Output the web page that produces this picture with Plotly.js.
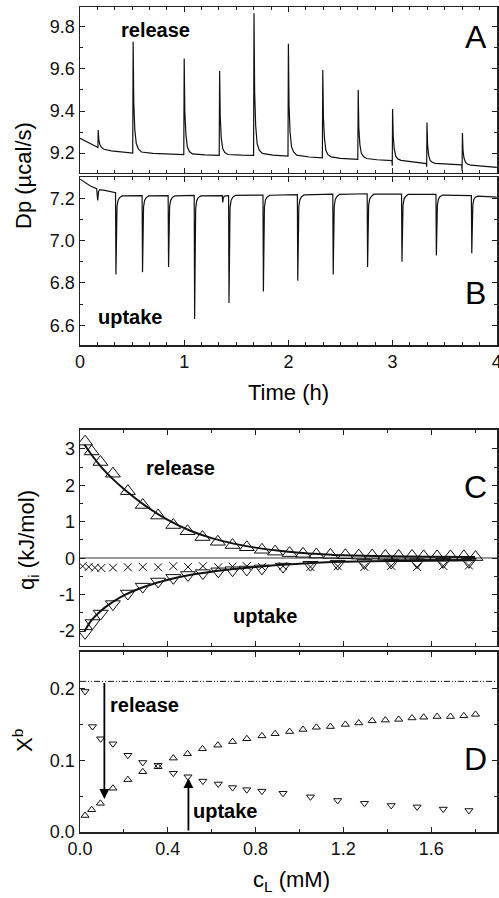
<!DOCTYPE html>
<html>
<head>
<meta charset="utf-8">
<script src="https://cdn.plot.ly/plotly-3.0.1.min.js"></script>
<style>html,body{margin:0;padding:0;background:#fff;}#plot{width:499px;height:898px;}</style>
</head>
<body>
<div id="plot"></div>
<script>
// ---------- Panel A : release thermogram ----------
var timeA = [0,0.05,0.10,0.15,0.172,0.175,0.181,0.19,0.205,0.23,0.30,0.40,
 0.506,0.510,0.516,0.526,0.540,0.560,0.590,0.700,0.850,
 0.996,1.000,1.006,1.016,1.030,1.050,1.080,1.200,
 1.336,1.340,1.346,1.356,1.370,1.390,1.420,1.550,
 1.666,1.670,1.676,1.686,1.700,1.720,1.750,1.850,
 1.996,2.000,2.006,2.016,2.030,2.050,2.080,2.200,
 2.326,2.330,2.336,2.346,2.360,2.380,2.410,2.500,
 2.666,2.670,2.676,2.686,2.700,2.720,2.750,2.850,
 2.994,2.997,3.000,3.006,3.016,3.030,3.050,3.080,3.200,
 3.324,3.327,3.330,3.336,3.346,3.360,3.380,3.410,3.500,
 3.664,3.667,3.670,3.676,3.686,3.700,3.720,3.750,3.850,4.000];
var dpA = [9.270,9.256,9.244,9.232,9.226,9.310,9.262,9.240,9.228,9.218,9.210,9.204,
 9.200,9.730,9.440,9.310,9.245,9.220,9.205,9.198,9.195,
 9.192,9.650,9.400,9.290,9.230,9.207,9.196,9.191,
 9.189,9.590,9.370,9.270,9.220,9.202,9.193,9.190,
 9.189,9.865,9.490,9.330,9.245,9.214,9.198,9.190,
 9.185,9.720,9.430,9.300,9.230,9.205,9.190,9.181,
 9.177,9.595,9.370,9.270,9.212,9.192,9.182,9.175,
 9.170,9.500,9.320,9.240,9.200,9.183,9.174,9.168,
 9.164,9.140,9.410,9.280,9.220,9.185,9.172,9.165,9.158,
 9.150,9.135,9.345,9.240,9.190,9.165,9.156,9.151,9.148,
 9.144,9.115,9.295,9.210,9.175,9.155,9.147,9.142,9.137,9.132];

// ---------- Panel B : uptake thermogram ----------
var timeB = [0,0.05,0.10,0.160,0.170,0.178,0.19,0.25,0.33,
 0.341,0.345,0.349,0.355,0.365,0.380,0.405,0.500,
 0.596,0.600,0.604,0.610,0.620,0.635,0.660,0.750,
 0.846,0.850,0.854,0.860,0.870,0.885,0.910,1.000,
 1.096,1.100,1.104,1.110,1.120,1.135,1.160,1.300,
 1.366,1.370,1.375,1.385,
 1.426,1.430,1.434,1.440,1.450,1.465,1.490,1.600,
 1.756,1.760,1.764,1.770,1.780,1.795,1.820,1.950,
 2.086,2.090,2.094,2.100,2.110,2.125,2.150,2.300,
 2.426,2.430,2.434,2.440,2.450,2.465,2.490,2.600,
 2.756,2.760,2.764,2.770,2.780,2.795,2.820,2.950,
 3.086,3.090,3.094,3.100,3.110,3.125,3.150,3.300,
 3.416,3.420,3.424,3.430,3.440,3.455,3.480,3.600,
 3.756,3.760,3.764,3.770,3.780,3.795,3.820,3.900,4.000];
var dpB = [7.290,7.272,7.258,7.245,7.190,7.232,7.240,7.236,7.228,
 7.226,6.840,7.080,7.160,7.190,7.203,7.211,7.212,
 7.212,6.850,7.080,7.160,7.190,7.203,7.211,7.212,
 7.212,6.875,7.090,7.160,7.190,7.203,7.211,7.212,
 7.213,6.630,7.060,7.150,7.188,7.203,7.211,7.213,
 7.212,7.180,7.200,7.210,
 7.212,6.705,7.070,7.155,7.190,7.204,7.213,7.215,
 7.215,6.760,7.075,7.158,7.192,7.205,7.214,7.216,
 7.217,6.810,7.080,7.160,7.193,7.206,7.216,7.218,
 7.219,6.840,7.085,7.162,7.194,7.207,7.218,7.220,
 7.221,6.875,7.090,7.165,7.196,7.208,7.219,7.220,
 7.220,6.900,7.095,7.166,7.196,7.208,7.218,7.218,
 7.218,6.930,7.100,7.168,7.196,7.207,7.215,7.214,
 7.212,6.940,7.100,7.168,7.195,7.205,7.210,7.208,7.205];

// ---------- Panel C : heats per injection ----------
var cRelease = [0.023,0.053,0.093,0.150,0.218,0.286,0.356,0.425,0.490,0.558,0.628,0.695,0.760,0.829,0.889,
 0.955,1.016,1.077,1.141,1.209,1.270,1.331,1.391,1.452,1.513,1.566,1.627,1.688,1.749,1.802];
var qRelease = [3.20,2.93,2.64,2.32,1.84,1.46,1.17,0.91,0.74,0.58,0.45,0.36,0.30,0.23,0.18,
 0.14,0.12,0.10,0.09,0.08,0.07,0.07,0.06,0.06,0.06,0.05,0.05,0.05,0.05,0.03];
var cUptake = [0.023,0.057,0.094,0.150,0.218,0.286,0.356,0.425,0.492,0.560,0.630,0.695,0.760,0.829,0.925,
 1.050,1.174,1.296,1.418,1.536,1.655,1.772];
var qUptake = [-2.05,-1.78,-1.52,-1.26,-0.97,-0.78,-0.64,-0.54,-0.46,-0.41,-0.36,-0.33,-0.31,-0.28,-0.23,
 -0.18,-0.15,-0.13,-0.12,-0.11,-0.10,-0.10];
var cBlank = [0.012,0.040,0.068,0.097,0.150,0.218,0.286,0.356,0.425,0.492,0.560,0.630,0.695,0.760,0.829,
 0.925,1.050,1.174,1.296,1.418,1.536,1.655,1.772];
var qBlank = [-0.22,-0.24,-0.26,-0.27,-0.26,-0.25,-0.24,-0.25,-0.22,-0.24,-0.22,-0.25,-0.23,-0.22,-0.24,
 -0.22,-0.24,-0.22,-0.24,-0.21,-0.24,-0.21,-0.20];
var cFit = [0.02,0.05,0.10,0.15,0.20,0.30,0.40,0.50,0.60,0.70,0.80,0.90,1.00,1.10,1.20,1.40,1.60,1.80];
var fitRelease = [3.12,2.86,2.48,2.17,1.90,1.43,1.05,0.76,0.55,0.40,0.29,0.21,0.15,0.11,0.08,0.05,0.04,0.03];
var fitUptake = [-2.02,-1.72,-1.42,-1.20,-1.02,-0.77,-0.59,-0.46,-0.37,-0.30,-0.24,-0.19,-0.15,-0.12,-0.10,-0.08,-0.07,-0.06];
var qTickVals = [-2,-1,0,1,2,3];
var qTickText = ['-2','-1','0','1','2','3'];

// ---------- Panel D : bound mole fraction ----------
var xbRelease = [0.023,0.031,0.040,0.061,0.073,0.084,0.091,0.103,0.109,0.116,0.121,0.126,0.130,0.134,0.137,
 0.140,0.143,0.146,0.147,0.150,0.152,0.155,0.156,0.157,0.159,0.160,0.161,0.161,0.162,0.164];
var xbUptake = [0.196,0.147,0.130,0.123,0.107,0.097,0.093,0.082,0.077,0.071,0.067,0.062,0.059,0.057,0.054,
 0.049,0.044,0.040,0.037,0.035,0.032,0.030];
var satC = [0, 1.9];
var satXb = [0.21, 0.21];
var releaseArrow = {c: 0.111, from: 0.21, to: 0.046};
var uptakeArrow = {c: 0.494, from: 0.0, to: 0.075};

var FONT = 'Liberation Sans, Arial, sans-serif';
var black = '#111';

var traces = [
  {x: timeA, y: dpA, xaxis: 'x', yaxis: 'y', mode: 'lines', line: {color: black, width: 1.2}},
  {x: timeB, y: dpB, xaxis: 'x2', yaxis: 'y2', mode: 'lines', line: {color: black, width: 1.2}},
  {x: cFit, y: fitRelease, xaxis: 'x3', yaxis: 'y3', mode: 'lines', line: {color: black, width: 2, shape: 'spline'}},
  {x: cFit, y: fitUptake, xaxis: 'x3', yaxis: 'y3', mode: 'lines', line: {color: black, width: 2, shape: 'spline'}},
  {x: cRelease, y: qRelease, xaxis: 'x3', yaxis: 'y3', mode: 'markers',
   marker: {symbol: 'triangle-up-open', size: 13, color: black, line: {width: 1, color: black}}},
  {x: cUptake, y: qUptake, xaxis: 'x3', yaxis: 'y3', mode: 'markers',
   marker: {symbol: 'triangle-down-open', size: 13, color: black, line: {width: 1, color: black}}},
  {x: cBlank, y: qBlank, xaxis: 'x3', yaxis: 'y3', mode: 'markers',
   marker: {symbol: 'x-thin-open', size: 8, color: black, line: {width: 1, color: black}}},
  {x: satC, y: satXb, xaxis: 'x4', yaxis: 'y4', mode: 'lines',
   line: {color: black, width: 1, dash: '6px,2px,1px,2px,1px,2px'}},
  {x: cRelease, y: xbRelease, xaxis: 'x4', yaxis: 'y4', mode: 'markers',
   marker: {symbol: 'triangle-up-open', size: 7, color: black, line: {width: 1, color: black}}},
  {x: cUptake, y: xbUptake, xaxis: 'x4', yaxis: 'y4', mode: 'markers',
   marker: {symbol: 'triangle-down-open', size: 7, color: black, line: {width: 1, color: black}}}
];

function ax(extra) {
  var base = {
    showline: true, linecolor: '#222', linewidth: 1.5, mirror: 'ticks',
    ticks: 'inside', ticklen: 5, tickwidth: 1, tickcolor: '#222',
    showgrid: false, zeroline: false,
    tickfont: {family: FONT, size: 18, color: '#111'}
  };
  for (var k in extra) base[k] = extra[k];
  return base;
}
function minor(d) { return {dtick: d, ticks: 'inside', ticklen: 3, tickwidth: 1, tickcolor: '#222', showgrid: false}; }

var ann = [];
function txt(x, y, t, size, bold) {
  ann.push({xref: 'paper', yref: 'paper', x: x, y: y, text: bold ? '<b>' + t + '</b>' : t, showarrow: false,
    xanchor: 'center', yanchor: 'middle', font: {family: FONT, size: size, color: '#000'}});
}
txt(0.1799, 0.9721, 'release', 20, true);
txt(0.1199, 0.6242, 'uptake', 20, true);
txt(0.2422, 0.4412, 'release', 20, true);
txt(0.4436, 0.2618, 'uptake', 20, true);
txt(0.1535, 0.1539, 'release', 20, true);
txt(0.3477, 0.0255, 'uptake', 20, true);
txt(0.9496, 0.9636, 'A', 32, false);
txt(0.9496, 0.6533, 'B', 32, false);
txt(0.9496, 0.4182, 'C', 32, false);
txt(0.9496, 0.0885, 'D', 32, false);
txt(0.501, 0.5333, 'Time (h)', 22, false);
txt(0.506, -0.059, 'c<sub>L</sub> (mM)', 22, false);
ann.push({xref: 'paper', yref: 'paper', x: -0.1343, y: 0.7964, text: 'Dp (\u00b5cal/s)', textangle: -90,
  showarrow: false, xanchor: 'center', yanchor: 'middle', font: {family: FONT, size: 22, color: '#000'}});
ann.push({xref: 'paper', yref: 'paper', x: -0.1247, y: 0.354, text: 'q<sub>i</sub> (kJ/mol)', textangle: -90,
  showarrow: false, xanchor: 'center', yanchor: 'middle', font: {family: FONT, size: 22, color: '#000'}});
ann.push({xref: 'paper', yref: 'paper', x: -0.137, y: 0.1115, text: 'X<sup>b</sup>', textangle: -90,
  showarrow: false, xanchor: 'center', yanchor: 'middle', font: {family: FONT, size: 22, color: '#000'}});
[releaseArrow, uptakeArrow].forEach(function (a) {
  ann.push({xref: 'x4', yref: 'y4', x: a.c, y: a.to, axref: 'x4', ayref: 'y4', ax: a.c, ay: a.from,
    text: '', showarrow: true, arrowhead: 2, arrowsize: 1.1, arrowwidth: 1.8, arrowcolor: '#000', standoff: 0});
});

var layout = {
  width: 499, height: 898,
  margin: {l: 80, r: 2, t: 7, b: 66},
  paper_bgcolor: '#fff', plot_bgcolor: '#fff',
  showlegend: false,
  font: {family: FONT, color: '#111'},
  xaxis: ax({domain: [0, 1], anchor: 'y', range: [0, 4.002], dtick: 1, tick0: 0, showticklabels: false, minor: minor(1/6)}),
  xaxis2: ax({domain: [0, 1], anchor: 'y2', range: [0, 4.002], dtick: 1, tick0: 0, ticklabeloverflow: 'allow', minor: minor(1/6)}),
  xaxis3: ax({domain: [0, 1], anchor: 'y3', range: [0, 1.9], dtick: 0.4, tick0: 0, showticklabels: false, minor: minor(0.2)}),
  xaxis4: ax({domain: [0, 1], anchor: 'y4', range: [0, 1.9], dtick: 0.4, tick0: 0, tickformat: '.1f', minor: minor(0.2)}),
  yaxis: ax({domain: [0.7988, 1], anchor: 'x', range: [9.105, 9.895], dtick: 0.2, tick0: 9.2, tickformat: '.1f', minor: minor(0.1)}),
  yaxis2: ax({domain: [0.5903, 0.7939], anchor: 'x2', range: [6.507, 7.30], dtick: 0.2, tick0: 6.6, tickformat: '.1f', minor: minor(0.1)}),
  yaxis3: ax({domain: [0.2255, 0.4873], anchor: 'x3', range: [-2.41, 3.52], tickmode: 'array', tickvals: qTickVals, ticktext: qTickText,
    zeroline: true, zerolinecolor: '#999', zerolinewidth: 1.5, minor: {tickmode: 'linear', dtick: 0.5, tick0: 0, ticks: 'inside', ticklen: 3, tickwidth: 1, tickcolor: '#222', showgrid: false}}),
  yaxis4: ax({domain: [0, 0.2182], anchor: 'x4', range: [0, 0.251], dtick: 0.1, tick0: 0, tickformat: '.1f', minor: minor(0.05)}),
  annotations: ann
};

Plotly.newPlot('plot', traces, layout, {displayModeBar: false, staticPlot: true});
</script>
</body>
</html>
